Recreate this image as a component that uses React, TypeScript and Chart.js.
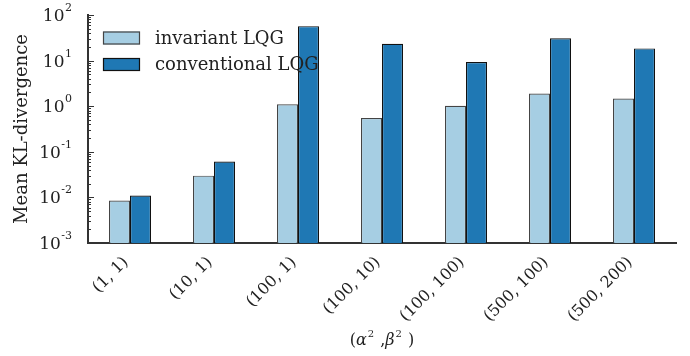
import React, { useEffect, useRef } from "react";
import { Chart, registerables } from "chart.js";

Chart.register(...registerables);

const categories = ["(1, 1)", "(10, 1)", "(100, 1)", "(100, 10)", "(100, 100)", "(500, 100)", "(500, 200)"];
const invariantLQG = [0.0085, 0.03, 1.1, 0.55, 1.02, 1.9, 1.48];
const conventionalLQG = [0.011, 0.061, 57, 23.4, 9.3, 30.8, 18.5];
const yTickValues = [1e-3, 1e-2, 1e-1, 1, 10, 100];
const yTickExponents = ["-3", "-2", "-1", "0", "1", "2"];
const seriesLabels = ["invariant LQG", "conventional LQG"];
const seriesColors = ["#a6cee3", "#1f78b4"];
const seriesBorders = ["#444444", "#111111"];

const FONT = "'DejaVu Serif', serif";

const innerTicks = {
  id: "innerTicks",
  afterDraw(chart: any) {
    const y = chart.scales.y;
    const ctx = chart.ctx;
    const left = chart.chartArea.left;
    ctx.save();
    ctx.strokeStyle = "#333";
    ctx.lineWidth = 1;
    for (let k = -3; k <= 1; k++) {
      for (let m = 1; m <= 9; m++) {
        const v = m * Math.pow(10, k);
        const py = Math.round(y.getPixelForValue(v)) + 0.5;
        const len = m === 1 ? 6 : 3;
        ctx.beginPath();
        ctx.moveTo(left, py);
        ctx.lineTo(left + len, py);
        ctx.stroke();
      }
    }
    const pTop = Math.round(y.getPixelForValue(100)) + 0.5;
    ctx.beginPath();
    ctx.moveTo(left, pTop);
    ctx.lineTo(left + 6, pTop);
    ctx.stroke();

    // tick labels: 10 with raised exponent
    const rightEdge = left - 16;
    yTickValues.forEach((v, i) => {
      const py = y.getPixelForValue(v);
      ctx.font = `11px ${FONT}`;
      const we = ctx.measureText(yTickExponents[i]).width;
      const ex = rightEdge - we;
      ctx.fillStyle = "#222";
      ctx.textAlign = "left";
      ctx.textBaseline = "alphabetic";
      ctx.fillText(yTickExponents[i], ex, py - 4);
      ctx.font = `17px ${FONT}`;
      const wb = ctx.measureText("10").width;
      ctx.fillText("10", ex - wb - 0.5, py + 6);
    });
    ctx.restore();
  },
};

const insideLegend = {
  id: "insideLegend",
  afterDraw(chart: any) {
    const ctx = chart.ctx;
    const x0 = chart.chartArea.left + 15;
    const y0 = chart.chartArea.top + 23;
    const rowH = 26.5;
    ctx.save();
    chart.data.datasets.forEach((ds: any, i: number) => {
      const cy = y0 + i * rowH;
      ctx.fillStyle = ds.backgroundColor;
      ctx.fillRect(x0, cy - 6.5, 37, 13);
      ctx.strokeStyle = ds.borderColor;
      ctx.lineWidth = 1.2;
      ctx.strokeRect(x0 + 0.5, cy - 6.5 + 0.5, 36, 12);
      ctx.fillStyle = "#222";
      ctx.font = `18px ${FONT}`;
      ctx.textBaseline = "middle";
      ctx.textAlign = "left";
      ctx.fillText(ds.label, x0 + 52, cy + 1);
    });
    ctx.restore();
  },
};

const xTitle = {
  id: "xTitle",
  afterDraw(chart: any) {
    const ctx = chart.ctx;
    const cx = (chart.chartArea.left + chart.chartArea.right) / 2;
    const base = 345;
    const parts: [string, string, number][] = [
      ["(", "normal", 0],
      ["α", "italic", 0],
      ["2", "sup", 0],
      [" ,", "normal", 0],
      ["β", "italic", 0],
      ["2", "sup", 0],
      [" )", "normal", 0],
    ];
    ctx.save();
    const fontFor = (s: string) =>
      s === "sup" ? `10px ${FONT}` : s === "italic" ? `italic 16px ${FONT}` : `16px ${FONT}`;
    let total = 0;
    parts.forEach((p) => {
      ctx.font = fontFor(p[1]);
      p[2] = ctx.measureText(p[0]).width + (p[1] === "sup" ? 2 : 0);
      total += p[2];
    });
    let x = cx - total / 2;
    ctx.fillStyle = "#222";
    ctx.textAlign = "left";
    ctx.textBaseline = "alphabetic";
    parts.forEach((p) => {
      ctx.font = fontFor(p[1]);
      ctx.fillText(p[0], x + (p[1] === "sup" ? 1 : 0), p[1] === "sup" ? base - 8 : base);
      x += p[2];
    });
    ctx.restore();
  },
};

export default function App() {
  const ref = useRef<HTMLCanvasElement | null>(null);
  useEffect(() => {
    if (!ref.current) return;
    const chart = new Chart(ref.current, {
      type: "bar",
      data: {
        labels: categories,
        datasets: [invariantLQG, conventionalLQG].map((d, i) => ({
          label: seriesLabels[i],
          data: d,
          backgroundColor: seriesColors[i],
          borderColor: seriesBorders[i],
          borderWidth: 1.2,
          categoryPercentage: 0.5,
          barPercentage: 1.0,
        })),
      },
      plugins: [innerTicks, insideLegend, xTitle],
      options: {
        animation: false,
        responsive: false,
        maintainAspectRatio: false,
        layout: { padding: { left: 0, right: 14, top: 15, bottom: 0 } },
        plugins: { legend: { display: false }, tooltip: { enabled: false } },
        scales: {
          x: {
            grid: { display: false, drawTicks: false },
            border: { display: true, color: "#333", width: 2 },
            ticks: {
              autoSkip: false,
              maxRotation: 45,
              minRotation: 45,
              padding: 10,
              labelOffset: -4,
              color: "#222",
              font: { family: FONT, size: 16 },
            },
            afterFit(scale: any) {
              scale.height = 113;
            },
          },
          y: {
            type: "logarithmic",
            min: 1e-3,
            max: 100,
            grid: { display: false, drawTicks: false },
            border: { display: true, color: "#333", width: 2 },
            afterBuildTicks(scale: any) {
              scale.ticks = yTickValues.map((v) => ({ value: v }));
            },
            ticks: { display: false },
            title: {
              display: true,
              text: "Mean KL-divergence",
              color: "#222",
              font: { family: FONT, size: 18 },
              padding: { top: 12, bottom: 0 },
            },
            afterFit(scale: any) {
              scale.width = 88;
            },
          },
        },
      },
    });
    return () => chart.destroy();
  }, []);
  return (
    <div style={{ position: "fixed", left: 0, top: 0, width: 690, height: 356, background: "#fff" }}>
      <canvas ref={ref} width={690} height={356} style={{ width: 690, height: 356 }} />
    </div>
  );
}
